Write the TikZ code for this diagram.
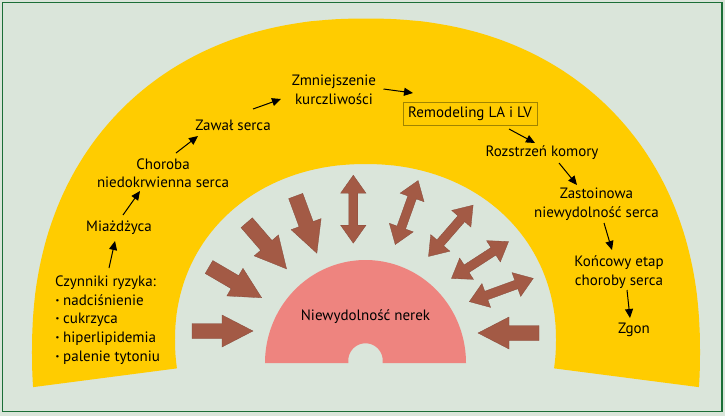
\documentclass[tikz,border=0pt]{standalone}
\usepackage{fontspec}
\setmainfont{PT Sans}
\usetikzlibrary{arrows.meta,calc}
\definecolor{bg}{HTML}{DAE5DA}
\definecolor{yel}{HTML}{FFCC00}
\definecolor{pinkk}{HTML}{EE847F}
\definecolor{brn}{HTML}{A35A45}
\definecolor{brnd}{HTML}{86493A}
\definecolor{framegreen}{HTML}{1B6E37}
\definecolor{boxb}{HTML}{A08400}
\newcommand\bul{\makebox[8pt][l]{\hspace{0.5pt}\textbf{·}}}
\tikzset{
 lbl/.style={font=\fontsize{15}{18.6}\selectfont, align=center, inner sep=0pt, text=black},
 conn/.style={-{Triangle[length=9pt,width=8pt]}, line width=1pt},
 brownshape/.style={fill=brn, draw=brnd, line width=0.3pt},
 sarr/.pic={\path[brownshape] (0,7.5) -- (30,7.5) -- (30,16) -- (61,0) -- (30,-16) -- (30,-7.5) -- (0,-7.5) -- cycle;},
 darr/.pic={\path[brownshape] (-34,0) -- (-16,12.7) -- (-16,4.5) -- (16,4.5) -- (16,12.7) -- (34,0) -- (16,-12.7) -- (16,-4.5) -- (-16,-4.5) -- (-16,-12.7) -- cycle;}
}
\begin{document}
\begin{tikzpicture}[x=1pt,y=-1pt]
\useasboundingbox (0,0) rectangle (725,416);
\fill[bg] (0,0) rectangle (725,416);
\draw[framegreen, line width=1.2pt] (2.5,2.5) rectangle (722,411.7);
% yellow band (superellipse arcs)
\fill[yel] plot[domain=-4.8:184.8, samples=160]
   ({366+334*(cos(\x)<0?-1:1)*abs(cos(\x))^0.90909},{352-333.5*(sin(\x)<0?-1:1)*abs(sin(\x))^0.90909})
  -- plot[domain=188.35:-8.35, samples=140]
   ({365.5+190.5*(cos(\x)<0?-1:1)*abs(cos(\x))^0.95238},{340-176*(sin(\x)<0?-1:1)*abs(sin(\x))^0.95238})
  -- cycle;
% kidney dome
\fill[pinkk] plot[domain=180:360, samples=120] ({365.5+100.5*cos(\x)},{363+103*sin(\x)})
  -- (382.7,363) -- (382.7,360.5)
  -- plot[domain=0:-180, samples=40] ({365.5+17.2*cos(\x)},{360.5+17.2*sin(\x)})
  -- (348.3,363) -- cycle;
\node[lbl] (nerek) at (365.5,316.7) {Niewydolność nerek};
% block arrows
\pic[rotate=0] at (192,331) {sarr};
\pic[rotate=180] at (539,333) {sarr};
\pic[rotate=-30.3] at (209,267) {sarr};
\pic[rotate=-49.2] at (246.7,222.7) {sarr};
\pic[rotate=-69.7] at (295.7,196) {sarr};
\pic[rotate=90] at (353.3,209.2) {darr};
\pic[rotate=70.3] at (406.7,212.5) {darr};
\pic[rotate=49] at (450.8,230.8) {darr};
\pic[rotate=32.9] at (480,260) {darr};
\pic[rotate=20] at (501.3,290) {darr};
% labels
\node[lbl, anchor=base west] (risk) at (55,286.7) {Czynniki ryzyka:};
\foreach \t [count=\i] in {nadciśnienie, cukrzyca, hiperlipidemia, palenie tytoniu}
  \node[lbl, anchor=base west] (risk\i) at (55,{286.7+18.6*\i}) {\bul\t};
\node[lbl] (miaz) at (119,228) {Miażdżyca};
\node[lbl] (chor) at (163,173.3) {Choroba\\niedokrwienna serca};
\node[lbl] (zawal) at (233,125) {Zawał serca};
\node[lbl] (zmn) at (334,90) {Zmniejszenie\\kurczliwości};
\node[lbl, draw=boxb, line width=0.8pt, minimum width=134pt, minimum height=23pt] (remod) at (470,113.5) {Remodeling LA i LV};
\node[lbl] (rozs) at (542,153) {Rozstrzeń komory};
\node[lbl] (zast) at (596.5,204) {Zastoinowa\\niewydolność serca};
\node[lbl] (konc) at (619,272) {Końcowy etap\\choroby serca};
\node[lbl] (zgon) at (634,330) {Zgon};
% connectors
\draw[conn] ([shift={(54,-18.7)}]risk.base west) -- ([shift={(-4,13)}]miaz.center);
\draw[conn] ([shift={(4,-13)}]miaz.center) -- ([shift={(-23,17.7)}]chor.center);
\draw[conn] ([shift={(13,-20.3)}]chor.center) -- ([shift={(-35,11)}]zawal.center);
\draw[conn] ([shift={(20,-16)}]zawal.center) -- ([shift={(-53,9)}]zmn.center);
\draw[conn] ([shift={(49.5,-1)}]zmn.center) -- ([shift={(-57,-20.5)}]remod.center);
\draw[conn] ([shift={(39,15.5)}]remod.center) -- ([shift={(-7,-10)}]rozs.center);
\draw[conn] ([shift={(17,10)}]rozs.center) -- ([shift={(-19.5,-19)}]zast.center);
\draw[conn] ([shift={(7.5,19)}]zast.center) -- ([shift={(-7,-22)}]konc.center);
\draw[conn] ([shift={(8,18)}]konc.center) -- ([shift={(-4,-12)}]zgon.center);
\end{tikzpicture}
\end{document}
